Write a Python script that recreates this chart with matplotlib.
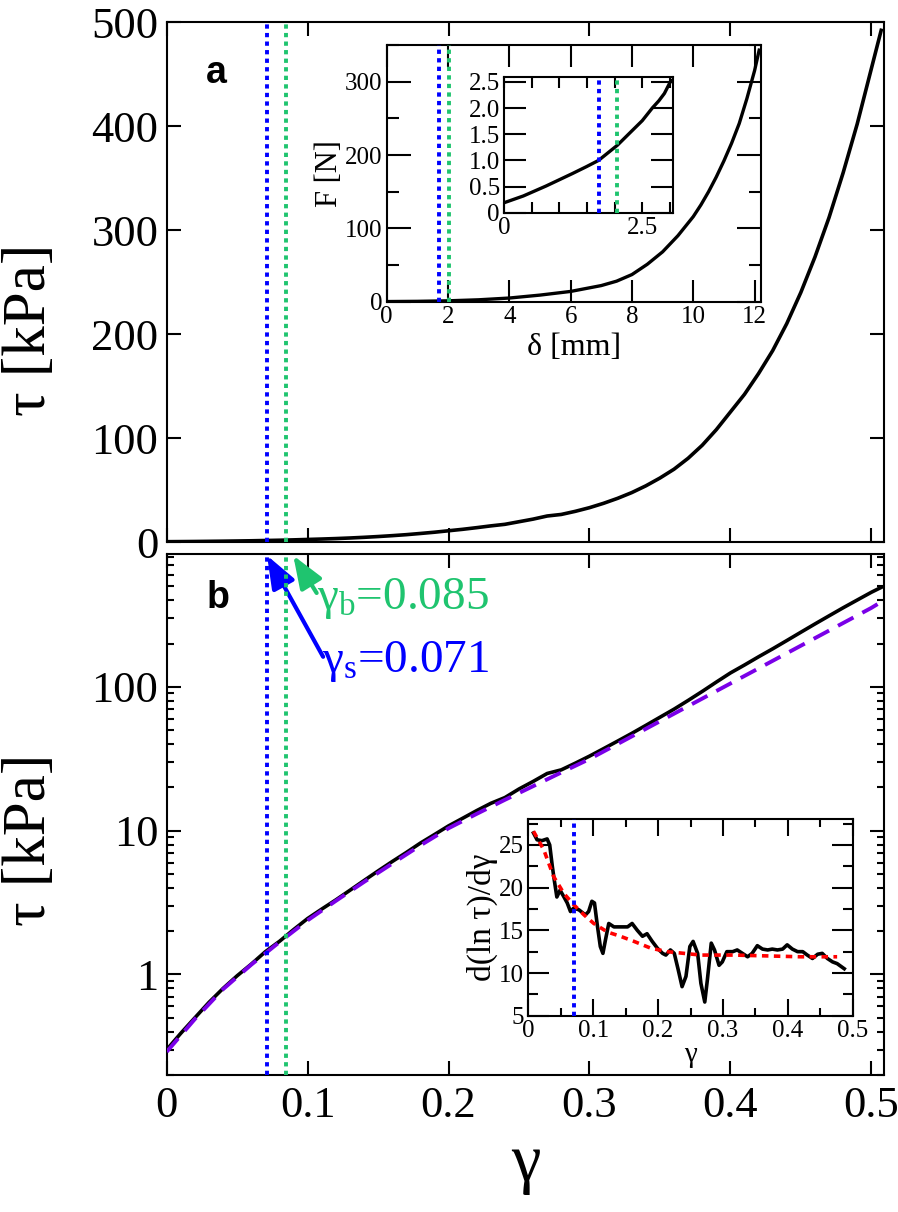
import matplotlib
matplotlib.use('Agg')
import matplotlib.pyplot as plt
from matplotlib.ticker import MultipleLocator, FixedLocator, LogLocator, FuncFormatter, NullFormatter

plt.rcParams['font.family'] = ['Liberation Serif', 'DejaVu Serif']
plt.rcParams['mathtext.fontset'] = 'custom'
plt.rcParams['mathtext.rm'] = 'Liberation Serif'
plt.rcParams['mathtext.it'] = 'Liberation Serif:italic'

# ---------------- data ----------------
gamma = [0.00, 0.01, 0.02, 0.03, 0.04, 0.05, 0.06, 0.07, 0.08, 0.09,
         0.10, 0.11, 0.12, 0.13, 0.14, 0.15, 0.16, 0.17, 0.18, 0.19,
         0.20, 0.21, 0.22, 0.23, 0.24, 0.25, 0.26, 0.27, 0.28, 0.29,
         0.30, 0.31, 0.32, 0.33, 0.34, 0.35, 0.36, 0.37, 0.38, 0.39,
         0.40, 0.41, 0.42, 0.43, 0.44, 0.45, 0.46, 0.47, 0.48, 0.49,
         0.50, 0.507]
tau = [0.30, 0.39, 0.50, 0.64, 0.80, 0.98, 1.18, 1.44, 1.70, 2.05,
       2.45, 2.85, 3.30, 3.85, 4.50, 5.25, 6.10, 7.05, 8.20, 9.40,
       10.8, 12.2, 13.8, 15.5, 17.0, 19.5, 22.0, 25.0, 26.5, 29.5,
       33.0, 37.2, 42.0, 47.5, 54.0, 61.5, 70.0, 80.5, 93.0, 108.0,
       125.0, 142.0, 162.0, 184.0, 210.0, 240.0, 274.0, 312.0, 355.0, 402.0,
       455.0, 492.0]

gamma_fit = [0.00, 0.02, 0.04, 0.06, 0.08, 0.10, 0.12, 0.14, 0.16, 0.18,
             0.20, 0.22, 0.24, 0.26, 0.28, 0.30, 0.32, 0.34, 0.36, 0.38,
             0.40, 0.42, 0.44, 0.46, 0.48, 0.50, 0.507]
tau_fit = [0.29, 0.49, 0.79, 1.17, 1.68, 2.38, 3.25, 4.40, 5.90, 7.90,
           10.4, 13.1, 16.4, 20.4, 25.4, 31.5, 40.1, 51.1, 65.1, 82.9,
           105.6, 134.5, 171.4, 218.3, 278.1, 354.3, 390.0]

delta_mm = [0, 1, 2, 3, 4, 5, 6, 6.5, 7, 7.5, 8, 8.5, 9, 9.5, 10, 10.25, 10.5,
            10.75, 11, 11.25, 11.5, 11.75, 12, 12.15]
force_N = [0.2, 0.5, 1.2, 2.6, 5, 9, 14, 18, 22, 28, 37, 51, 68, 90, 116, 132, 150,
           170, 192, 216, 243, 277, 315, 343]

delta_zoom = [0, 0.35, 0.76, 1.24, 1.49, 1.71, 2.05, 2.26, 2.5, 2.68, 2.8, 2.9, 3.02]
force_zoom = [0.19, 0.32, 0.51, 0.75, 0.88, 1.0, 1.29, 1.51, 1.76, 2.0, 2.14, 2.28, 2.53]

gamma_d = [0.008, 0.0135, 0.021, 0.029, 0.033, 0.037, 0.040, 0.044, 0.049, 0.055,
           0.060, 0.065, 0.070, 0.078, 0.088, 0.093, 0.098, 0.102, 0.106, 0.111,
           0.115, 0.119, 0.124, 0.132, 0.142, 0.153, 0.160, 0.168, 0.176, 0.183,
           0.191, 0.199, 0.207, 0.212, 0.219, 0.225, 0.231, 0.237, 0.243, 0.249,
           0.254, 0.261, 0.266, 0.272, 0.276, 0.282, 0.287, 0.294, 0.299, 0.306,
           0.315, 0.322, 0.330, 0.338, 0.345, 0.353, 0.361, 0.369, 0.376, 0.384,
           0.392, 0.399, 0.407, 0.415, 0.423, 0.430, 0.438, 0.446, 0.453, 0.461,
           0.469, 0.476, 0.487]
dlntau = [26.4, 25.6, 25.5, 25.7, 25.0, 22.5, 20.9, 18.9, 19.7, 18.9,
          18.2, 17.2, 17.6, 17.4, 16.8, 17.2, 18.4, 18.2, 15.8, 13.1,
          12.3, 13.9, 15.8, 15.4, 15.4, 15.4, 15.8, 15.0, 14.3, 14.6,
          13.7, 12.9, 12.3, 12.1, 12.7, 12.3, 10.4, 8.4, 9.6, 13.1,
          13.7, 12.3, 8.8, 6.6, 9.2, 13.5, 12.7, 10.9, 11.3, 12.5,
          12.5, 12.7, 12.3, 11.9, 12.3, 13.2, 12.8, 12.7, 12.8, 12.7,
          12.8, 13.3, 12.8, 12.5, 12.5, 12.1, 11.7, 12.2, 12.3, 11.7,
          11.3, 11.1, 10.5]

gamma_dfit = [0.008, 0.024, 0.039, 0.055, 0.070, 0.086, 0.101, 0.122, 0.142, 0.163,
              0.189, 0.214, 0.240, 0.266, 0.317, 0.369, 0.420, 0.476]
dlntau_fit = [26.6, 24.4, 21.3, 19.3, 18.0, 16.8, 15.8, 14.8, 14.3, 13.7,
              12.9, 12.5, 12.3, 12.1, 12.1, 12.0, 11.9, 11.9]

gamma_s = 0.071
gamma_b = 0.085
delta_s = 1.71
delta_b = 2.04

BLUE = '#0000ff'
GREEN = '#1fc46f'
PURPLE = '#7a00e8'
RED = '#ff0000'

W, H = 898, 1212
fig = plt.figure(figsize=(W / 100, H / 100), dpi=100)


def px_axes(x0, y0, x1, y1):
    return fig.add_axes([x0 / W, 1 - y1 / H, (x1 - x0) / W, (y1 - y0) / H])


def style(ax, lsize, maj, mino=None, xmaj=None, xmin=None, xpad=6, ypad=6):
    for s in ax.spines.values():
        s.set_linewidth(1.5)
    ax.tick_params(which='both', direction='in', top=True, right=True,
                   labelsize=lsize, width=1.5)
    ax.tick_params(axis='x', which='both', pad=xpad)
    ax.tick_params(axis='y', which='both', pad=ypad)
    ax.tick_params(axis='y', which='major', length=maj)
    ax.tick_params(axis='x', which='major', length=xmaj if xmaj is not None else maj)
    if mino is not None:
        ax.tick_params(axis='y', which='minor', length=mino)
    ax.tick_params(axis='x', which='minor', length=xmin if xmin is not None else (mino or 0))


def fmt0(v, pos=None):
    if abs(v) < 1e-12:
        return '0'
    return ('%g' % v)


dot = (0, (1.1, 1.1))
DLW = 2.8

# ---------------- panel a ----------------
axa = px_axes(166.7, 22, 884, 542)
axa.plot(gamma, tau, color='k', lw=2.6, zorder=3)
axa.axvline(gamma_s, color=BLUE, lw=DLW, ls=dot, zorder=4)
axa.axvline(gamma_b, color=GREEN, lw=DLW, ls=dot, zorder=4)
axa.set_xlim(0, 0.509)
axa.set_ylim(0, 500)
axa.xaxis.set_major_locator(MultipleLocator(0.1))
axa.yaxis.set_major_locator(MultipleLocator(100))
axa.set_xticklabels([])
style(axa, 32, 10, xmaj=10, ypad=6)
axa.set_ylabel('τ [kPa]', fontsize=44)
axa.yaxis.set_label_coords(-0.152, (542 - 330) / 520)
axa.text((216 - 166.7) / 717.3, (542 - 82.7) / 520, 'a', transform=axa.transAxes,
         fontsize=27, fontweight='bold', family='Liberation Sans', ha='center', va='baseline')

# inset a (outer)
axi = px_axes(386.7, 45, 760.7, 301.7)
axi.plot(delta_mm, force_N, color='k', lw=2.4, zorder=3)
axi.axvline(delta_s, color=BLUE, lw=DLW, ls=dot, zorder=4)
axi.axvline(delta_b, color=GREEN, lw=DLW, ls=dot, zorder=4)
axi.set_xlim(0, 12.2)
axi.set_ylim(0, 350)
axi.xaxis.set_major_locator(MultipleLocator(2))
axi.yaxis.set_major_locator(MultipleLocator(100))
axi.yaxis.set_minor_locator(MultipleLocator(50))
style(axi, 18, 17, mino=8.5, xmaj=16, xmin=0, xpad=3, ypad=3)
axi.set_xlabel('δ [mm]', fontsize=23, labelpad=4)
axi.set_ylabel('F [N]', fontsize=22, labelpad=1)

# inset a (inner)
axz = px_axes(504, 76.7, 672.7, 212.7)
axz.plot(delta_zoom, force_zoom, color='k', lw=2.4, zorder=3)
axz.axvline(delta_s, color=BLUE, lw=DLW, ls=dot, zorder=4)
axz.axvline(delta_b, color=GREEN, lw=DLW, ls=dot, zorder=4)
axz.set_xlim(0, 3.05)
axz.set_ylim(0, 2.6)
axz.xaxis.set_major_locator(FixedLocator([0, 2.5]))
axz.xaxis.set_minor_locator(MultipleLocator(0.5))
axz.yaxis.set_major_locator(MultipleLocator(0.5))
axz.xaxis.set_major_formatter(FuncFormatter(lambda v, p: '0' if v == 0 else '%.1f' % v))
axz.yaxis.set_major_formatter(FuncFormatter(lambda v, p: '0' if v == 0 else '%.1f' % v))
style(axz, 18, 16, xmaj=8, xmin=8, xpad=3, ypad=3)

# ---------------- panel b ----------------
axb = px_axes(166.7, 554, 884, 1075)
axb.plot(gamma, tau, color='k', lw=2.6, zorder=3)
axb.plot(gamma_fit, tau_fit, color=PURPLE, lw=2.8, ls=(0, (4.5, 2.6)), zorder=4)
axb.axvline(gamma_s, color=BLUE, lw=DLW, ls=dot, zorder=5)
axb.axvline(gamma_b, color=GREEN, lw=DLW, ls=dot, zorder=5)
axb.set_yscale('log')
axb.set_xlim(0, 0.509)
axb.set_ylim(0.2, 840)
axb.xaxis.set_major_locator(MultipleLocator(0.1))
axb.xaxis.set_major_formatter(FuncFormatter(fmt0))
axb.yaxis.set_major_locator(FixedLocator([1, 10, 100]))
axb.yaxis.set_major_formatter(FuncFormatter(lambda v, p: '%g' % v))
axb.yaxis.set_minor_locator(LogLocator(base=10, subs=[2, 3, 4, 5, 6, 7, 8, 9]))
axb.yaxis.set_minor_formatter(NullFormatter())
style(axb, 32, 10, mino=5, xmaj=10, xmin=0, xpad=8, ypad=6)
axb.set_ylabel('τ [kPa]', fontsize=44)
axb.yaxis.set_label_coords(-0.152, (1075 - 840) / 521)
axb.set_xlabel('γ', fontsize=48, labelpad=6)
axb.text((217.5 - 166.7) / 717.3, (1075 - 608.3) / 521, 'b', transform=axb.transAxes,
         fontsize=27, fontweight='bold', family='Liberation Sans', ha='center', va='baseline')

# arrows & annotations
axb.annotate('', xy=(0.0898, 820), xytext=(0.1064, 450),
             arrowprops=dict(arrowstyle='-|>,head_length=1.0,head_width=0.38',
                             color=GREEN, lw=3, shrinkA=0, shrinkB=0, mutation_scale=20))
axb.annotate('', xy=(0.0712, 820), xytext=(0.111, 162),
             arrowprops=dict(arrowstyle='-|>,head_length=1.0,head_width=0.38',
                             color=BLUE, lw=3, shrinkA=0, shrinkB=0, mutation_scale=20))
axb.text(0.1065, 410, r'$\mathrm{\gamma_b}$=0.085', color=GREEN, fontsize=34,
         ha='left', va='center')
axb.text(0.110, 150, r'$\mathrm{\gamma_s}$=0.071', color=BLUE, fontsize=34,
         ha='left', va='center')

# inset b
axd = px_axes(528.3, 819.3, 852.7, 1015.7)
axd.plot(gamma_d, dlntau, color='k', lw=2.6, zorder=3)
axd.plot(gamma_dfit, dlntau_fit, color=RED, lw=2.6, ls=(0, (1.8, 1.5)), zorder=4)
axd.axvline(gamma_s, color=BLUE, lw=DLW, ls=dot, zorder=5)
axd.set_xlim(0, 0.5)
axd.set_ylim(5, 28)
axd.xaxis.set_major_locator(MultipleLocator(0.1))
axd.xaxis.set_minor_locator(MultipleLocator(0.05))
axd.xaxis.set_major_formatter(FuncFormatter(fmt0))
axd.yaxis.set_major_locator(MultipleLocator(5))
axd.yaxis.set_minor_locator(MultipleLocator(2.5))
style(axd, 18, 15, mino=7.5, xmaj=12, xmin=6, xpad=3, ypad=3)
axd.set_xlabel('γ', fontsize=21, labelpad=0)
axd.set_ylabel('d(ln τ)/dγ', fontsize=24, labelpad=1)

fig.savefig('out.png', dpi=100)
